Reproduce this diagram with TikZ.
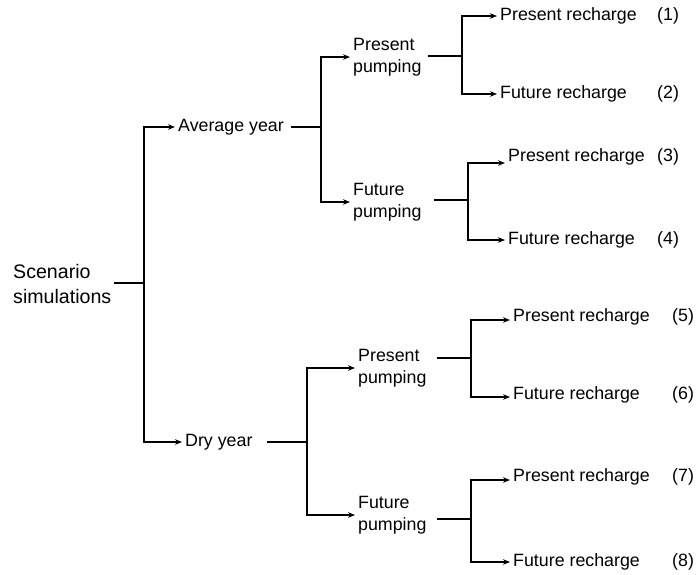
\documentclass[tikz,border=0pt]{standalone}
\usepackage{fontspec}
\setmainfont{Liberation Sans}
\usetikzlibrary{arrows.meta}

\begin{document}
\begin{tikzpicture}[x=1pt,y=-1pt,
  txt/.style={anchor=west,inner xsep=3pt,inner ysep=0pt,align=left,font=\fontsize{17.8}{22}\selectfont},
  link/.style={line width=1.1pt},
  arr/.style={link,-{Stealth[length=7pt,width=5.5pt]}}]
\useasboundingbox (0,0) rectangle (696,574);

% Root and years
\node[txt,font=\fontsize{19.6}{25}\selectfont] (root) at (10,284) {Scenario\\simulations};
\node[txt] (avg) at (175,127) {Average year};
\node[txt] (dry) at (182,442) {Dry year};

% Pumping
\node[txt] (avgP) at (350,57) {Present\\pumping};
\node[txt] (avgF) at (350,202) {Future\\pumping};
\node[txt] (dryP) at (355,368) {Present\\pumping};
\node[txt] (dryF) at (355,515) {Future\\pumping};

% Recharge
\node[txt] (r1) at (497,16) {Present recharge};
\node[txt] (r2) at (497,94) {Future recharge};
\node[txt] (r3) at (505,157) {Present recharge};
\node[txt] (r4) at (505,240) {Future recharge};
\node[txt] (r5) at (510,317) {Present recharge};
\node[txt] (r6) at (510,395) {Future recharge};
\node[txt] (r7) at (510,477) {Present recharge};
\node[txt] (r8) at (510,562) {Future recharge};

% Numbers
\node[txt] (n1) at (654,16) {(1)};
\node[txt] (n2) at (654,94) {(2)};
\node[txt] (n3) at (654,157) {(3)};
\node[txt] (n4) at (654,240) {(4)};
\node[txt] (n5) at (669,317) {(5)};
\node[txt] (n6) at (669,395) {(6)};
\node[txt] (n7) at (669,477) {(7)};
\node[txt] (n8) at (669,562) {(8)};

% Junctions
\coordinate (jRoot) at (144,283);
\coordinate (jAvg) at (321,127);
\coordinate (jDry) at (307,442);
\coordinate (jAvgP) at (462,56);
\coordinate (jAvgF) at (468,200);
\coordinate (jDryP) at (471,358);
\coordinate (jDryF) at (471,519);

% Branches
\draw[link] (jRoot -| root.east) -- (jRoot);
\draw[arr] (jRoot) |- (avg);
\draw[arr] (jRoot) |- (dry);

\draw[link] ([xshift=4pt]jAvg -| avg.east) -- (jAvg);
\draw[arr] (jAvg) |- (avgP);
\draw[arr] (jAvg) |- (avgF);
\draw[link] ([xshift=11pt]jDry -| dry.east) -- (jDry);
\draw[arr] (jDry) |- (dryP);
\draw[arr] (jDry) |- (dryF);

\draw[link] ([xshift=3pt]jAvgP -| avgP.east) -- (jAvgP);
\draw[arr] (jAvgP) |- (r1);
\draw[arr] (jAvgP) |- (r2);
\draw[link] ([xshift=9pt]jAvgF -| avgF.east) -- (jAvgF);
\draw[arr] (jAvgF) |- ([yshift=-6pt]r3.west);
\draw[arr] (jAvgF) |- (r4);
\draw[link] ([xshift=7pt]jDryP -| dryP.east) -- (jDryP);
\draw[arr] (jDryP) |- ([yshift=-3pt]r5.west);
\draw[arr] (jDryP) |- ([yshift=-2pt]r6.west);
\draw[link] ([xshift=7pt]jDryF -| dryF.east) -- (jDryF);
\draw[arr] (jDryF) |- ([yshift=-3pt]r7.west);
\draw[arr] (jDryF) |- (r8);
\end{tikzpicture}
\end{document}
